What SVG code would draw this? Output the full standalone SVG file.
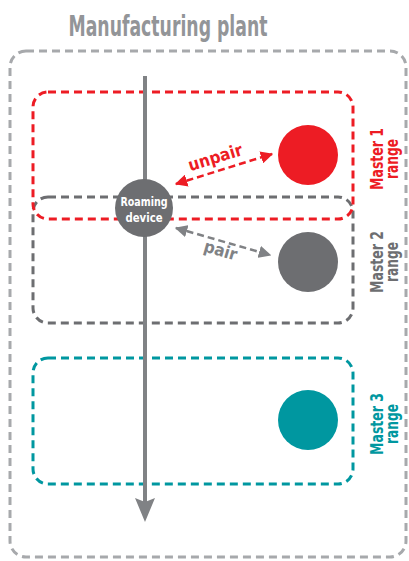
<svg xmlns="http://www.w3.org/2000/svg" width="409" height="561" viewBox="0 0 409 561">
<defs>
<style>
.t{font-family:"DejaVu Sans Condensed","DejaVu Sans",sans-serif;font-weight:bold;font-stretch:condensed}
.box{fill:none;stroke-width:3;stroke-dasharray:8 5}
</style>
<marker id="ar" viewBox="0 0 10 10" refX="9" refY="5" markerWidth="5" markerHeight="5" orient="auto-start-reverse" markerUnits="strokeWidth"><path d="M0,0L10,5L0,10z" fill="#ed1c24"/></marker>
<marker id="ag" viewBox="0 0 10 10" refX="9" refY="5" markerWidth="5" markerHeight="5" orient="auto-start-reverse" markerUnits="strokeWidth"><path d="M0,0L10,5L0,10z" fill="#808285"/></marker>
</defs>
<rect width="409" height="561" fill="#fff"/>
<g id="plant">
<rect class="box" x="10" y="51" width="396" height="506" rx="16" stroke="#a7a9ac" stroke-dasharray="8 6"/>
<text class="t" x="168" y="36" font-size="28" fill="#939598" text-anchor="middle" textLength="199" lengthAdjust="spacingAndGlyphs">Manufacturing plant</text>
</g>
<g id="master2-range">
<rect class="box" x="33" y="197" width="320" height="126" rx="15" stroke="#6d6e71"/>
<text class="t" transform="translate(383,262) rotate(-90)" font-size="18" fill="#6d6e71" text-anchor="middle" textLength="62" lengthAdjust="spacingAndGlyphs">Master 2</text>
<text class="t" transform="translate(398,262) rotate(-90)" font-size="18" fill="#6d6e71" text-anchor="middle" textLength="40" lengthAdjust="spacingAndGlyphs">range</text>
</g>
<g id="master1-range">
<rect class="box" x="33" y="92" width="320" height="127" rx="15" stroke="#ed1c24"/>
<text class="t" transform="translate(383,159) rotate(-90)" font-size="18" fill="#ed1c24" text-anchor="middle" textLength="62" lengthAdjust="spacingAndGlyphs">Master 1</text>
<text class="t" transform="translate(398,159) rotate(-90)" font-size="18" fill="#ed1c24" text-anchor="middle" textLength="40" lengthAdjust="spacingAndGlyphs">range</text>
</g>
<g id="master3-range">
<rect class="box" x="33" y="358" width="320" height="126" rx="15" stroke="#0097a0"/>
<text class="t" transform="translate(383,424) rotate(-90)" font-size="18" fill="#0097a0" text-anchor="middle" textLength="62" lengthAdjust="spacingAndGlyphs">Master 3</text>
<text class="t" transform="translate(398,424) rotate(-90)" font-size="18" fill="#0097a0" text-anchor="middle" textLength="40" lengthAdjust="spacingAndGlyphs">range</text>
</g>
<g id="master1"><circle cx="308" cy="155" r="30" fill="#ed1c24"/></g>
<g id="master2"><circle cx="308" cy="262" r="30" fill="#6d6e71"/></g>
<g id="master3"><circle cx="308" cy="420" r="30" fill="#0097a0"/></g>
<g id="connectors">
<line x1="145" y1="76" x2="145" y2="502" stroke="#808285" stroke-width="4"/>
<path d="M135,498L145,522L155,498L145,502z" fill="#808285"/>
<line x1="176" y1="184" x2="272" y2="154" stroke="#ed1c24" stroke-width="2.5" stroke-dasharray="7 4" marker-start="url(#ar)" marker-end="url(#ar)"/>
<text class="t" transform="translate(217,163) rotate(-17)" font-size="17" fill="#ed1c24" text-anchor="middle">unpair</text>
<line x1="176" y1="228" x2="270" y2="255" stroke="#808285" stroke-width="2.5" stroke-dasharray="7 4" marker-start="url(#ag)" marker-end="url(#ag)"/>
<text class="t" transform="translate(219,256) rotate(16)" font-size="17" fill="#808285" text-anchor="middle">pair</text>
</g>
<g id="roaming-device">
<circle cx="144" cy="208" r="29" fill="#6d6e71"/>
<text class="t" x="144" y="206" font-size="13" fill="#fff" text-anchor="middle" textLength="47" lengthAdjust="spacingAndGlyphs">Roaming</text>
<text class="t" x="144" y="222" font-size="13" fill="#fff" text-anchor="middle" textLength="37" lengthAdjust="spacingAndGlyphs">device</text>
</g>
</svg>
